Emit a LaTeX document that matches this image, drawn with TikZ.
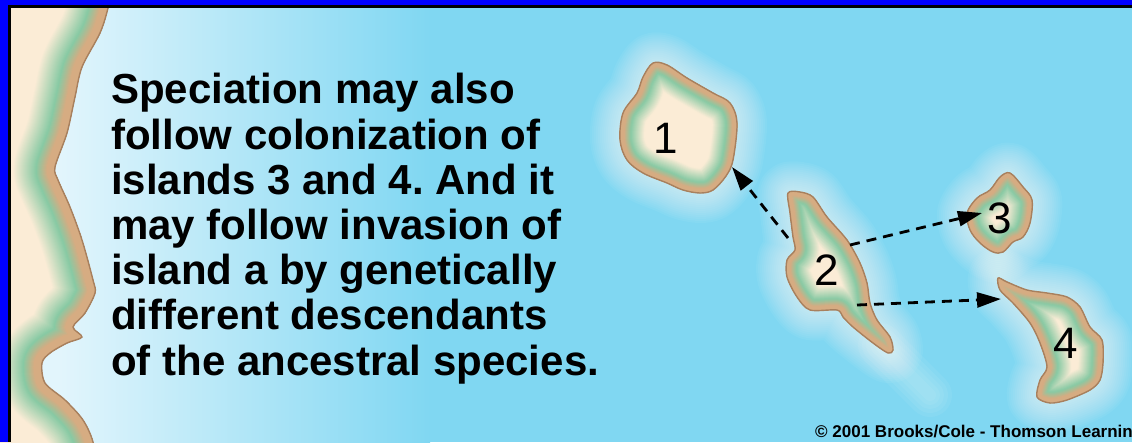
\documentclass[tikz,border=0pt]{standalone}
\usepackage{fontspec}
\setmainfont{Liberation Sans}
\usetikzlibrary{arrows.meta}
\frenchspacing

\definecolor{sea}{RGB}{128,215,242}
\definecolor{shallow}{RGB}{226,245,252}
\definecolor{sand}{RGB}{251,236,214}
\definecolor{grass}{RGB}{136,202,164}
\definecolor{shore}{RGB}{214,172,130}
\definecolor{rim}{RGB}{168,128,94}
\definecolor{frameblue}{RGB}{0,0,255}

% outlines of the mainland coast and of the four islands
\newcommand\coastline{plot[smooth, tension=0.5] coordinates {(113,-20) (108,8) (100,33) (82,67) (75,97) (67,133) (55,167) (58,180) (70,207) (82,240) (93,280) (95,293) (85,313) (73,327) (82,337) (67,343) (50,353) (42,363) (45,383) (65,400) (83,420) (93,442) (96,470)}}
\newcommand\landarea{(-120,-120) -- plot[smooth, tension=0.5] coordinates {(113,-20) (108,8) (100,33) (82,67) (75,97) (67,133) (55,167) (58,180) (70,207) (82,240) (93,280) (95,293) (85,313) (73,327) (82,337) (67,343) (50,353) (42,363) (45,383) (65,400) (83,420) (93,442) (96,470)} -- (-120,560) -- cycle}
\newcommand\isleone{plot[smooth cycle, tension=0.55] coordinates {(653,63) (667,65) (687,78) (713,93) (730,103) (737,123) (733,160) (726,176) (713,190) (700,193) (683,190) (667,183) (643,173) (627,160) (620,140) (623,113) (637,93) (643,77)}}
\newcommand\isletwo{plot[smooth cycle, tension=0.5] coordinates {(788,193) (800,192) (813,197) (827,217) (847,240) (860,263) (867,283) (870,303) (877,320) (890,337) (893,350) (888,353) (873,343) (853,327) (843,317) (837,310) (810,310) (797,297) (787,277) (787,260) (795,250) (793,237) (790,213)}}
\newcommand\islethree{plot[smooth cycle, tension=0.55] coordinates {(977,198) (990,190) (1000,177) (1010,173) (1023,187) (1032,200) (1030,223) (1023,237) (1013,242) (1003,252) (993,252) (980,243) (970,230) (967,213)}}
\newcommand\islefour{plot[smooth cycle, tension=0.5] coordinates {(998,278) (1007,282) (1027,290) (1047,293) (1067,297) (1080,307) (1090,327) (1102,340) (1103,363) (1100,380) (1090,390) (1067,400) (1050,403) (1037,397) (1040,380) (1047,367) (1040,343) (1030,323) (1013,303) (1000,290)}}

% soft white glow in the water round a piece of land
\newcommand\glow[2]{%
  \foreach \d in {2,4,...,#2}{%
    \pgfmathsetmacro\lw{2*\d}%
    \draw[white, opacity=0.05, line width=\lw pt, line join=round] #1;}}
% graded belt inside the shore: sand -> green -> tan beach
% #1 outline, #2 distance scale, #3 outermost step
\newcommand\belt[3]{%
  \foreach \d in {#3,...,1}{%
    \pgfmathsetmacro\dd{\d/#2}%
    \pgfmathsetmacro\p{max(0,min(100,(\dd-19)/23*100))}%
    \pgfmathsetmacro\q{max(0,min(100,(\dd-8)/11*100))}%
    \pgfmathsetmacro\lw{2*\d}%
    \ifdim\dd pt>19pt \colorlet{beltc}{sand!\p!grass}\else\colorlet{beltc}{grass!\q!shore}\fi
    \draw[beltc, line width=\lw pt, line join=round] #1;}}
% an island: sandy centre, belt and a thin rim
\newcommand\paintisle[1]{%
  \begin{scope}
    \clip #1;
    \fill[sand] #1;
    \belt{#1}{0.6}{26}
  \end{scope}
  \draw[rim, line width=1.4pt, line join=round] #1;}

\tikzset{
  route/.style={draw=black, line width=2.8pt, dash pattern=on 10pt off 7pt,
    -{Triangle[length=24pt, width=15pt]}},
  isleno/.style={font=\fontsize{44}{48}\selectfont, inner sep=0pt},
}

\begin{document}
\begin{tikzpicture}[x=1pt, y=-1pt]
\useasboundingbox (0,0) rectangle (1132,442);

% water
\fill[sea] (0,0) rectangle (1132,442);
\shade[left color=shallow, right color=sea] (60,0) rectangle (430,442);
\fill[shallow] (0,0) rectangle (60,442);

% mainland
\fill[sand] \landarea;
\begin{scope}
  \clip \landarea;
  \belt{\landarea}{1}{44}
\end{scope}
\draw[rim, line width=1.4pt, line join=round] \coastline;

% islands
\glow{\isleone}{30}
\glow{\isletwo}{30}
\glow{\islethree}{30}
\glow{\islefour}{30}
\foreach \w in {44,36,28,20,12}
  \draw[white, opacity=0.06, line width=\w pt, line cap=round] (880,345) -- (930,395);
\paintisle{\isleone}
\paintisle{\isletwo}
\paintisle{\islethree}
\paintisle{\islefour}

% island numbers
\node[isleno] (n1) at (666,138) {1};
\node[isleno] (n2) at (827,270) {2};
\node[isleno] (n3) at (1000,218) {3};
\node[isleno] (n4) at (1066,343) {4};

% dispersal routes
\coordinate (s1) at (788,238);
\coordinate (e1) at (732,167);
\coordinate (s3) at (850,245);
\coordinate (e3) at (982,213);
\coordinate (s4) at (857,305);
\coordinate (e4) at (1001,299);
\draw[route] (s1) -- (e1);
\draw[route] (s3) -- (e3);
\draw[route] (s4) -- (e4);

% caption (base anchor sits on the last line)
\node[anchor=base west, align=left, inner sep=0pt,
      font=\bfseries\fontsize{42}{45.2}\selectfont] (caption) at (111,375)
  {Speciation may also\\
   follow colonization of\\
   islands 3 and 4. And it\\
   may follow invasion of\\
   island a by genetically\\
   different descendants\\
   of the ancestral species.};

% credit line, running off the right edge
\node[anchor=base west, inner sep=0pt, font=\bfseries\fontsize{17}{19}\selectfont]
  (credit) at (815,437) {© 2001 Brooks/Cole - Thomson Learning};

% frame
\fill[frameblue] (0,0) rectangle (1132,5);
\fill[frameblue] (0,0) rectangle (8,442);
\fill[black] (8,5) rectangle (1132,8);
\fill[black] (8,5) rectangle (11,442);
\end{tikzpicture}
\end{document}
